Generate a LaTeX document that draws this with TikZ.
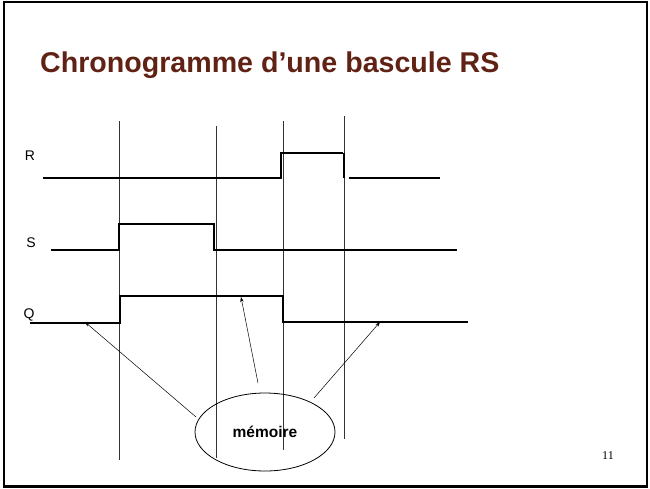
\documentclass[tikz,border=0pt]{standalone}
\usepackage{fontspec}
\setmainfont{Liberation Sans}
\newfontfamily\serifnum{Liberation Serif}
\usetikzlibrary{shapes.geometric,arrows.meta}
\definecolor{titlebrown}{RGB}{96,34,20}
\begin{document}
\begin{tikzpicture}[x=1pt,y=-1pt,
  sig/.style={line width=1.4pt, line cap=butt},
  qsig/.style={line width=2pt},
  vline/.style={line width=0.8pt, black!80},
  lbl/.style={inner sep=0pt, font=\fontsize{14}{16}\selectfont},
  memarrow/.style={line width=0.5pt, -{Stealth[length=5pt,width=3.5pt]}}]
\useasboundingbox (0,0) rectangle (650,488);
\draw[line width=2.5pt] (4,2) rectangle (647,486.5);
% title
\node[anchor=base west, inner sep=0pt, text=titlebrown,
  font=\fontsize{28.6}{32}\selectfont\bfseries] (title) at (40,72)
  {Chronogramme d’une bascule RS};
% vertical lines
\draw[vline] (119,121) -- (119,460);
\draw[vline] (216,126) -- (216,458);
\draw[vline] (283,121) -- (283,450);
\draw[vline] (344,116) -- (344,439);
% labels
\node[lbl] (R) at (30,156) {R};
\node[lbl] (S) at (31,243) {S};
\node[lbl] (Q) at (29,315) {Q};
% R signal
\draw[sig] (43,178) -- (281,178) -- (281,153) -- (343,153);
\draw[sig] (344,153) -- (344,178);
\draw[sig] (349,178) -- (440,178);
% S signal
\draw[sig] (51,250) -- (119,250) -- (119,224) -- (214,224) -- (214,250) -- (457,250);
% Q signal
\draw[qsig] (30,323) -- (120,323) -- (120,296) -- (283,296) -- (283,322) -- (468,322);
% memoire
\node[draw, ellipse, line width=0.8pt, minimum width=140pt, minimum height=78pt,
  inner sep=0pt, font=\fontsize{15.5}{18}\selectfont\bfseries] (mem) at (265,432) {mémoire};
\coordinate (s1) at (196,417);
\coordinate (t1) at (85,322);
\coordinate (s2) at (258,383);
\coordinate (t2) at (241,297);
\coordinate (s3) at (314,398);
\coordinate (t3) at (380,322);
\draw[memarrow] (s1) -- (t1);
\draw[memarrow] (s2) -- (t2);
\draw[memarrow] (s3) -- (t3);
% page number
\node[inner sep=0pt, font=\serifnum\fontsize{12}{14}\selectfont] (pg) at (608,456) {11};
\end{tikzpicture}
\end{document}
